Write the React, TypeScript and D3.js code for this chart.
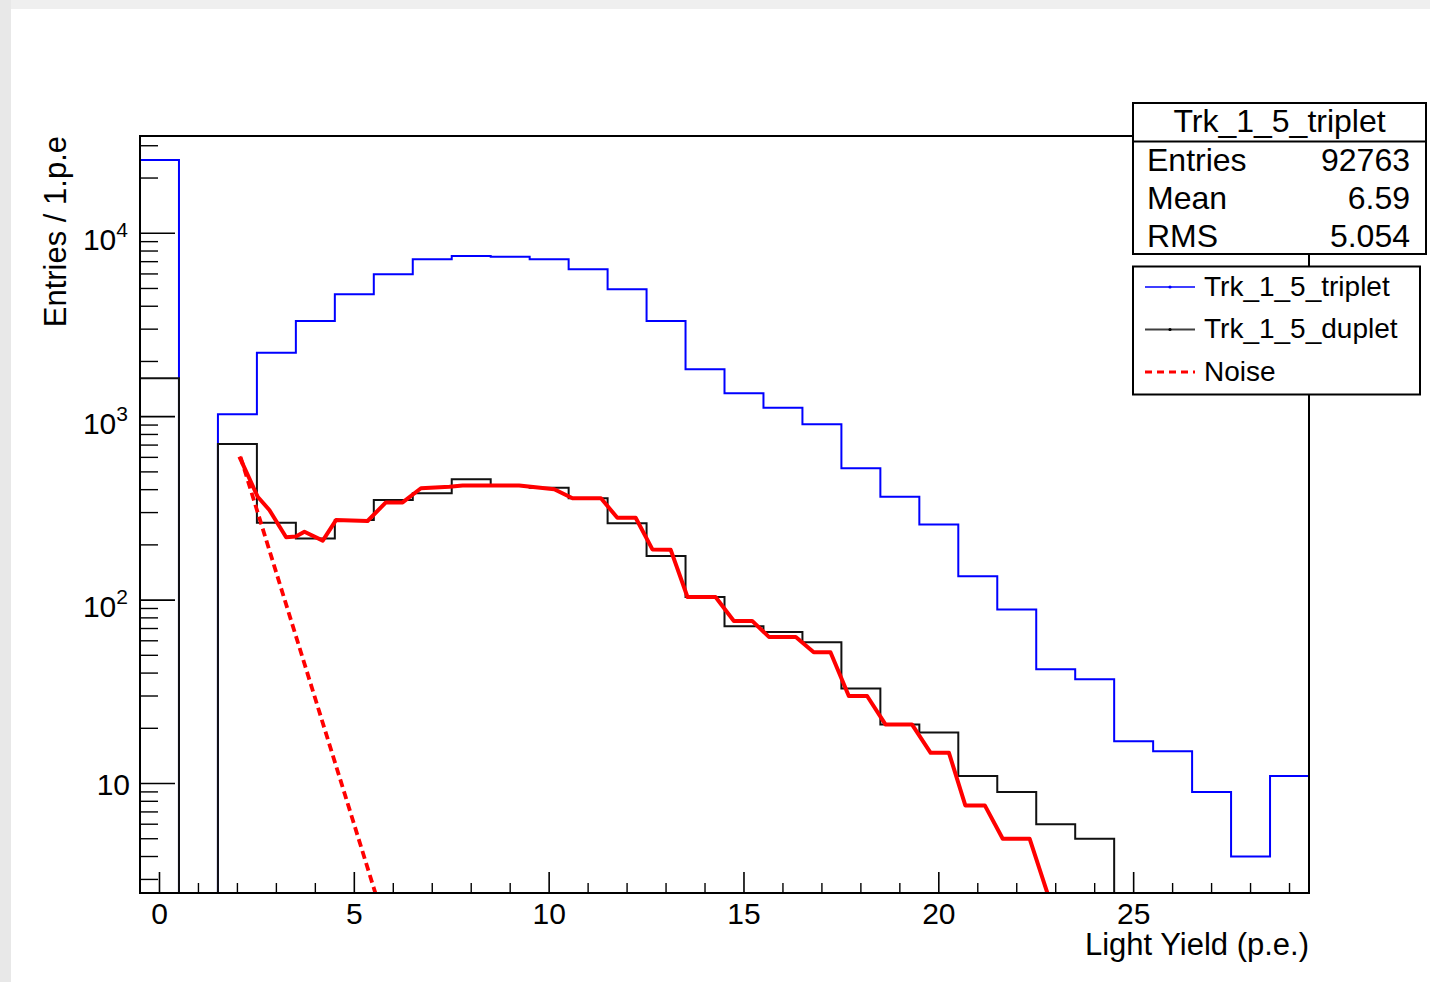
import React, { useMemo } from 'react';
import * as d3 from 'd3';

// ROOT-style light yield histogram: triplet vs duplet, with fit + noise curves.

const WIDTH = 1430;
const HEIGHT = 982;
const FRAME = { left: 140, right: 1309, top: 136, bottom: 893 };
const FONT = "'Liberation Sans', Arial, Helvetica, sans-serif";

const X_DOMAIN = [-0.5, 29.5];
const Y_DOMAIN = [2.53, 33900];

const BIN_CENTERS = [
  0, 1, 2, 3, 4, 5, 6, 7, 8, 9, 10, 11, 12, 13, 14, 15, 16, 17, 18, 19, 20, 21, 22, 23, 24, 25,
  26, 27, 28, 29,
];

const TRIPLET = [
  25100, 0, 1030, 2233, 3325, 4650, 5975, 7215, 7516, 7450, 7215, 6363, 4952, 3326, 1814, 1342,
  1119, 909, 523, 366, 258, 135, 89, 42, 37, 17, 15, 9, 4, 11,
];

const DUPLET = [
  1620, 0, 710, 264, 217, 273, 351, 382, 456, 419, 410, 359, 262, 174, 104, 72, 67, 59, 33, 21,
  19, 11, 9, 6, 5, 0, 0, 0, 0, 0,
];

const FIT_X = [
  2.05, 2.52, 2.82, 3.25, 3.5, 3.72, 4.19, 4.53, 5.34, 5.81, 6.24, 6.71, 7.44, 7.78, 9.23, 10.13,
  10.6, 11.33, 11.75, 12.22, 12.65, 13.12, 13.55, 14.27, 14.74, 15.21, 15.64, 16.33, 16.79, 17.22,
  17.69, 18.16, 18.63, 19.31, 19.79, 20.26, 20.68, 21.18, 21.64, 22.33, 22.85,
];
const FIT_Y = [
  605, 366, 310, 220, 222, 236, 211, 273, 270, 341, 341, 407, 415, 421, 421, 402, 359, 359, 281,
  281, 189, 188, 104, 104, 77, 77, 63, 63, 52, 52, 30, 30, 21, 21, 14.7, 14.7, 7.6, 7.6, 5.0, 5.0,
  2.3,
];

// noise component (red dashed), exponential -> straight on log axis
const NOISE_X = [2.08, 5.6];
const NOISE_Y = [603, 2.3];

const X_MAJOR = [0, 5, 10, 15, 20, 25];
const X_MINOR = [
  1, 2, 3, 4, 6, 7, 8, 9, 11, 12, 13, 14, 16, 17, 18, 19, 21, 22, 23, 24, 26, 27, 28, 29,
];
const Y_MAJOR = [10, 100, 1000, 10000];
const Y_LABELS = [
  { base: '10', exp: '' },
  { base: '10', exp: '2' },
  { base: '10', exp: '3' },
  { base: '10', exp: '4' },
];
const Y_MINOR = [
  3, 4, 5, 6, 7, 8, 9, 20, 30, 40, 50, 60, 70, 80, 90, 200, 300, 400, 500, 600, 700, 800, 900,
  2000, 3000, 4000, 5000, 6000, 7000, 8000, 9000, 20000, 30000,
];

const STATS_TITLE = 'Trk_1_5_triplet';
const STATS_ROWS = [
  ['Entries', '92763'],
  ['Mean', '6.59'],
  ['RMS', '5.054'],
];
const LEGEND = [
  { label: 'Trk_1_5_triplet', color: '#0000ff', dash: null, width: 2 },
  { label: 'Trk_1_5_duplet', color: '#000000', dash: null, width: 2 },
  { label: 'Noise', color: '#ff0000', dash: '7,5', width: 3 },
];

export default function App() {
  const x = useMemo(
    () => d3.scaleLinear().domain(X_DOMAIN).range([FRAME.left, FRAME.right]),
    [],
  );
  const y = useMemo(
    () => d3.scaleLog().domain(Y_DOMAIN).range([FRAME.bottom, FRAME.top]),
    [],
  );

  // zero / underflow bins sit on the frame bottom, like ROOT does on log axes
  const yClamp = (v: number) => {
    if (!(v > Y_DOMAIN[0])) return FRAME.bottom;
    return Math.max(FRAME.top, y(v));
  };

  const stepPath = (values: number[]) => {
    let d = '';
    values.forEach((v, i) => {
      const x0 = x(BIN_CENTERS[i] - 0.5);
      const x1 = x(BIN_CENTERS[i] + 0.5);
      const yy = yClamp(v);
      d += `${i === 0 ? 'M' : 'L'}${x0},${yy}L${x1},${yy}`;
    });
    return d;
  };

  const fitPath = d3
    .line<number>()
    .x((v) => x(v))
    .y((_, i) => y(FIT_Y[i]))(FIT_X);
  const noisePath = d3
    .line<number>()
    .x((v) => x(v))
    .y((_, i) => y(NOISE_Y[i]))(NOISE_X);

  const statsBox = { x: 1133, y: 103, w: 293, h: 151, titleH: 38.5 };
  const legendBox = { x: 1133, y: 266.5, w: 287, h: 128 };

  return (
    <svg
      width={WIDTH}
      height={HEIGHT}
      style={{ position: 'absolute', left: 0, top: 0, fontFamily: FONT }}
    >
      <rect x={0} y={0} width={WIDTH} height={HEIGHT} fill="#ffffff" />
      <rect x={0} y={0} width={WIDTH} height={9} fill="#efefef" />
      <rect x={0} y={0} width={11} height={HEIGHT} fill="#e8e8e8" />

      <defs>
        <clipPath id="frame-clip">
          <rect
            x={FRAME.left}
            y={FRAME.top}
            width={FRAME.right - FRAME.left}
            height={FRAME.bottom - FRAME.top}
          />
        </clipPath>
      </defs>

      {/* histograms + curves */}
      <g clipPath="url(#frame-clip)">
        <path d={stepPath(TRIPLET)} fill="none" stroke="#0000ff" strokeWidth={2} />
        <path d={stepPath(DUPLET)} fill="none" stroke="#111111" strokeWidth={2} />
        <path
          d={noisePath || ''}
          fill="none"
          stroke="#ff0000"
          strokeWidth={3.8}
          strokeDasharray="8,4.5"
        />
        <path
          d={fitPath || ''}
          fill="none"
          stroke="#ff0000"
          strokeWidth={4}
          strokeLinejoin="round"
        />
      </g>

      {/* frame */}
      <rect
        x={FRAME.left}
        y={FRAME.top}
        width={FRAME.right - FRAME.left}
        height={FRAME.bottom - FRAME.top}
        fill="none"
        stroke="#000"
        strokeWidth={2}
      />

      {/* x axis */}
      {X_MAJOR.map((t) => (
        <g key={`xM-${t}`}>
          <line
            x1={x(t)}
            x2={x(t)}
            y1={FRAME.bottom}
            y2={FRAME.bottom - 21}
            stroke="#000"
            strokeWidth={1.6}
          />
          <text x={x(t)} y={924} fontSize={30} textAnchor="middle" fill="#000">
            {t}
          </text>
        </g>
      ))}
      {X_MINOR.map((t) => (
        <line
          key={`xm-${t}`}
          x1={x(t)}
          x2={x(t)}
          y1={FRAME.bottom}
          y2={FRAME.bottom - 10}
          stroke="#000"
          strokeWidth={1.4}
        />
      ))}
      <text x={FRAME.right} y={955} fontSize={31} textAnchor="end" fill="#000">
        Light Yield (p.e.)
      </text>

      {/* y axis */}
      {Y_MAJOR.map((t, i) => {
        const lab = Y_LABELS[i];
        const yy = y(t);
        return (
          <g key={`yM-${t}`}>
            <line
              x1={FRAME.left}
              x2={FRAME.left + 35}
              y1={yy}
              y2={yy}
              stroke="#000"
              strokeWidth={1.6}
            />
            {lab.exp ? (
              <text x={128} y={yy + 17} fontSize={30} textAnchor="end" fill="#000">
                {lab.base}
                <tspan fontSize={21} dy={-13}>
                  {lab.exp}
                </tspan>
              </text>
            ) : (
              <text x={130} y={yy + 11} fontSize={30} textAnchor="end" fill="#000">
                {lab.base}
              </text>
            )}
          </g>
        );
      })}
      {Y_MINOR.map((t) => (
        <line
          key={`ym-${t}`}
          x1={FRAME.left}
          x2={FRAME.left + 18}
          y1={y(t)}
          y2={y(t)}
          stroke="#000"
          strokeWidth={1.4}
        />
      ))}
      <text
        transform={`translate(66, ${FRAME.top}) rotate(-90)`}
        fontSize={31}
        textAnchor="end"
        fill="#000"
      >
        Entries / 1.p.e
      </text>

      {/* stats box */}
      <g>
        <rect
          x={statsBox.x}
          y={statsBox.y}
          width={statsBox.w}
          height={statsBox.h}
          fill="#fff"
          stroke="#000"
          strokeWidth={2}
        />
        <line
          x1={statsBox.x}
          x2={statsBox.x + statsBox.w}
          y1={statsBox.y + statsBox.titleH}
          y2={statsBox.y + statsBox.titleH}
          stroke="#000"
          strokeWidth={2}
        />
        <text
          x={statsBox.x + statsBox.w / 2}
          y={132}
          fontSize={32}
          textAnchor="middle"
          fill="#000"
        >
          {STATS_TITLE}
        </text>
        {STATS_ROWS.map(([k, v], i) => (
          <g key={`st-${k}`}>
            <text x={1147} y={171 + i * 38} fontSize={32} fill="#000">
              {k}
            </text>
            <text x={1410} y={171 + i * 38} fontSize={32} textAnchor="end" fill="#000">
              {v}
            </text>
          </g>
        ))}
      </g>

      {/* legend */}
      <g>
        <rect
          x={legendBox.x}
          y={legendBox.y}
          width={legendBox.w}
          height={legendBox.h}
          fill="#fff"
          stroke="#000"
          strokeWidth={2}
        />
        {LEGEND.map((item, i) => {
          const cy = 287 + i * 42.5;
          return (
            <g key={`lg-${item.label}`}>
              <line
                x1={1145}
                x2={1195}
                y1={cy}
                y2={cy}
                stroke={item.color}
                strokeWidth={item.width}
                strokeDasharray={item.dash ?? undefined}
                opacity={item.dash ? 1 : 0.75}
              />
              {!item.dash && <circle cx={1170} cy={cy} r={1.6} fill={item.color} />}
              <text x={1204} y={cy + 8.5} fontSize={28} fill="#000">
                {item.label}
              </text>
            </g>
          );
        })}
      </g>
    </svg>
  );
}
